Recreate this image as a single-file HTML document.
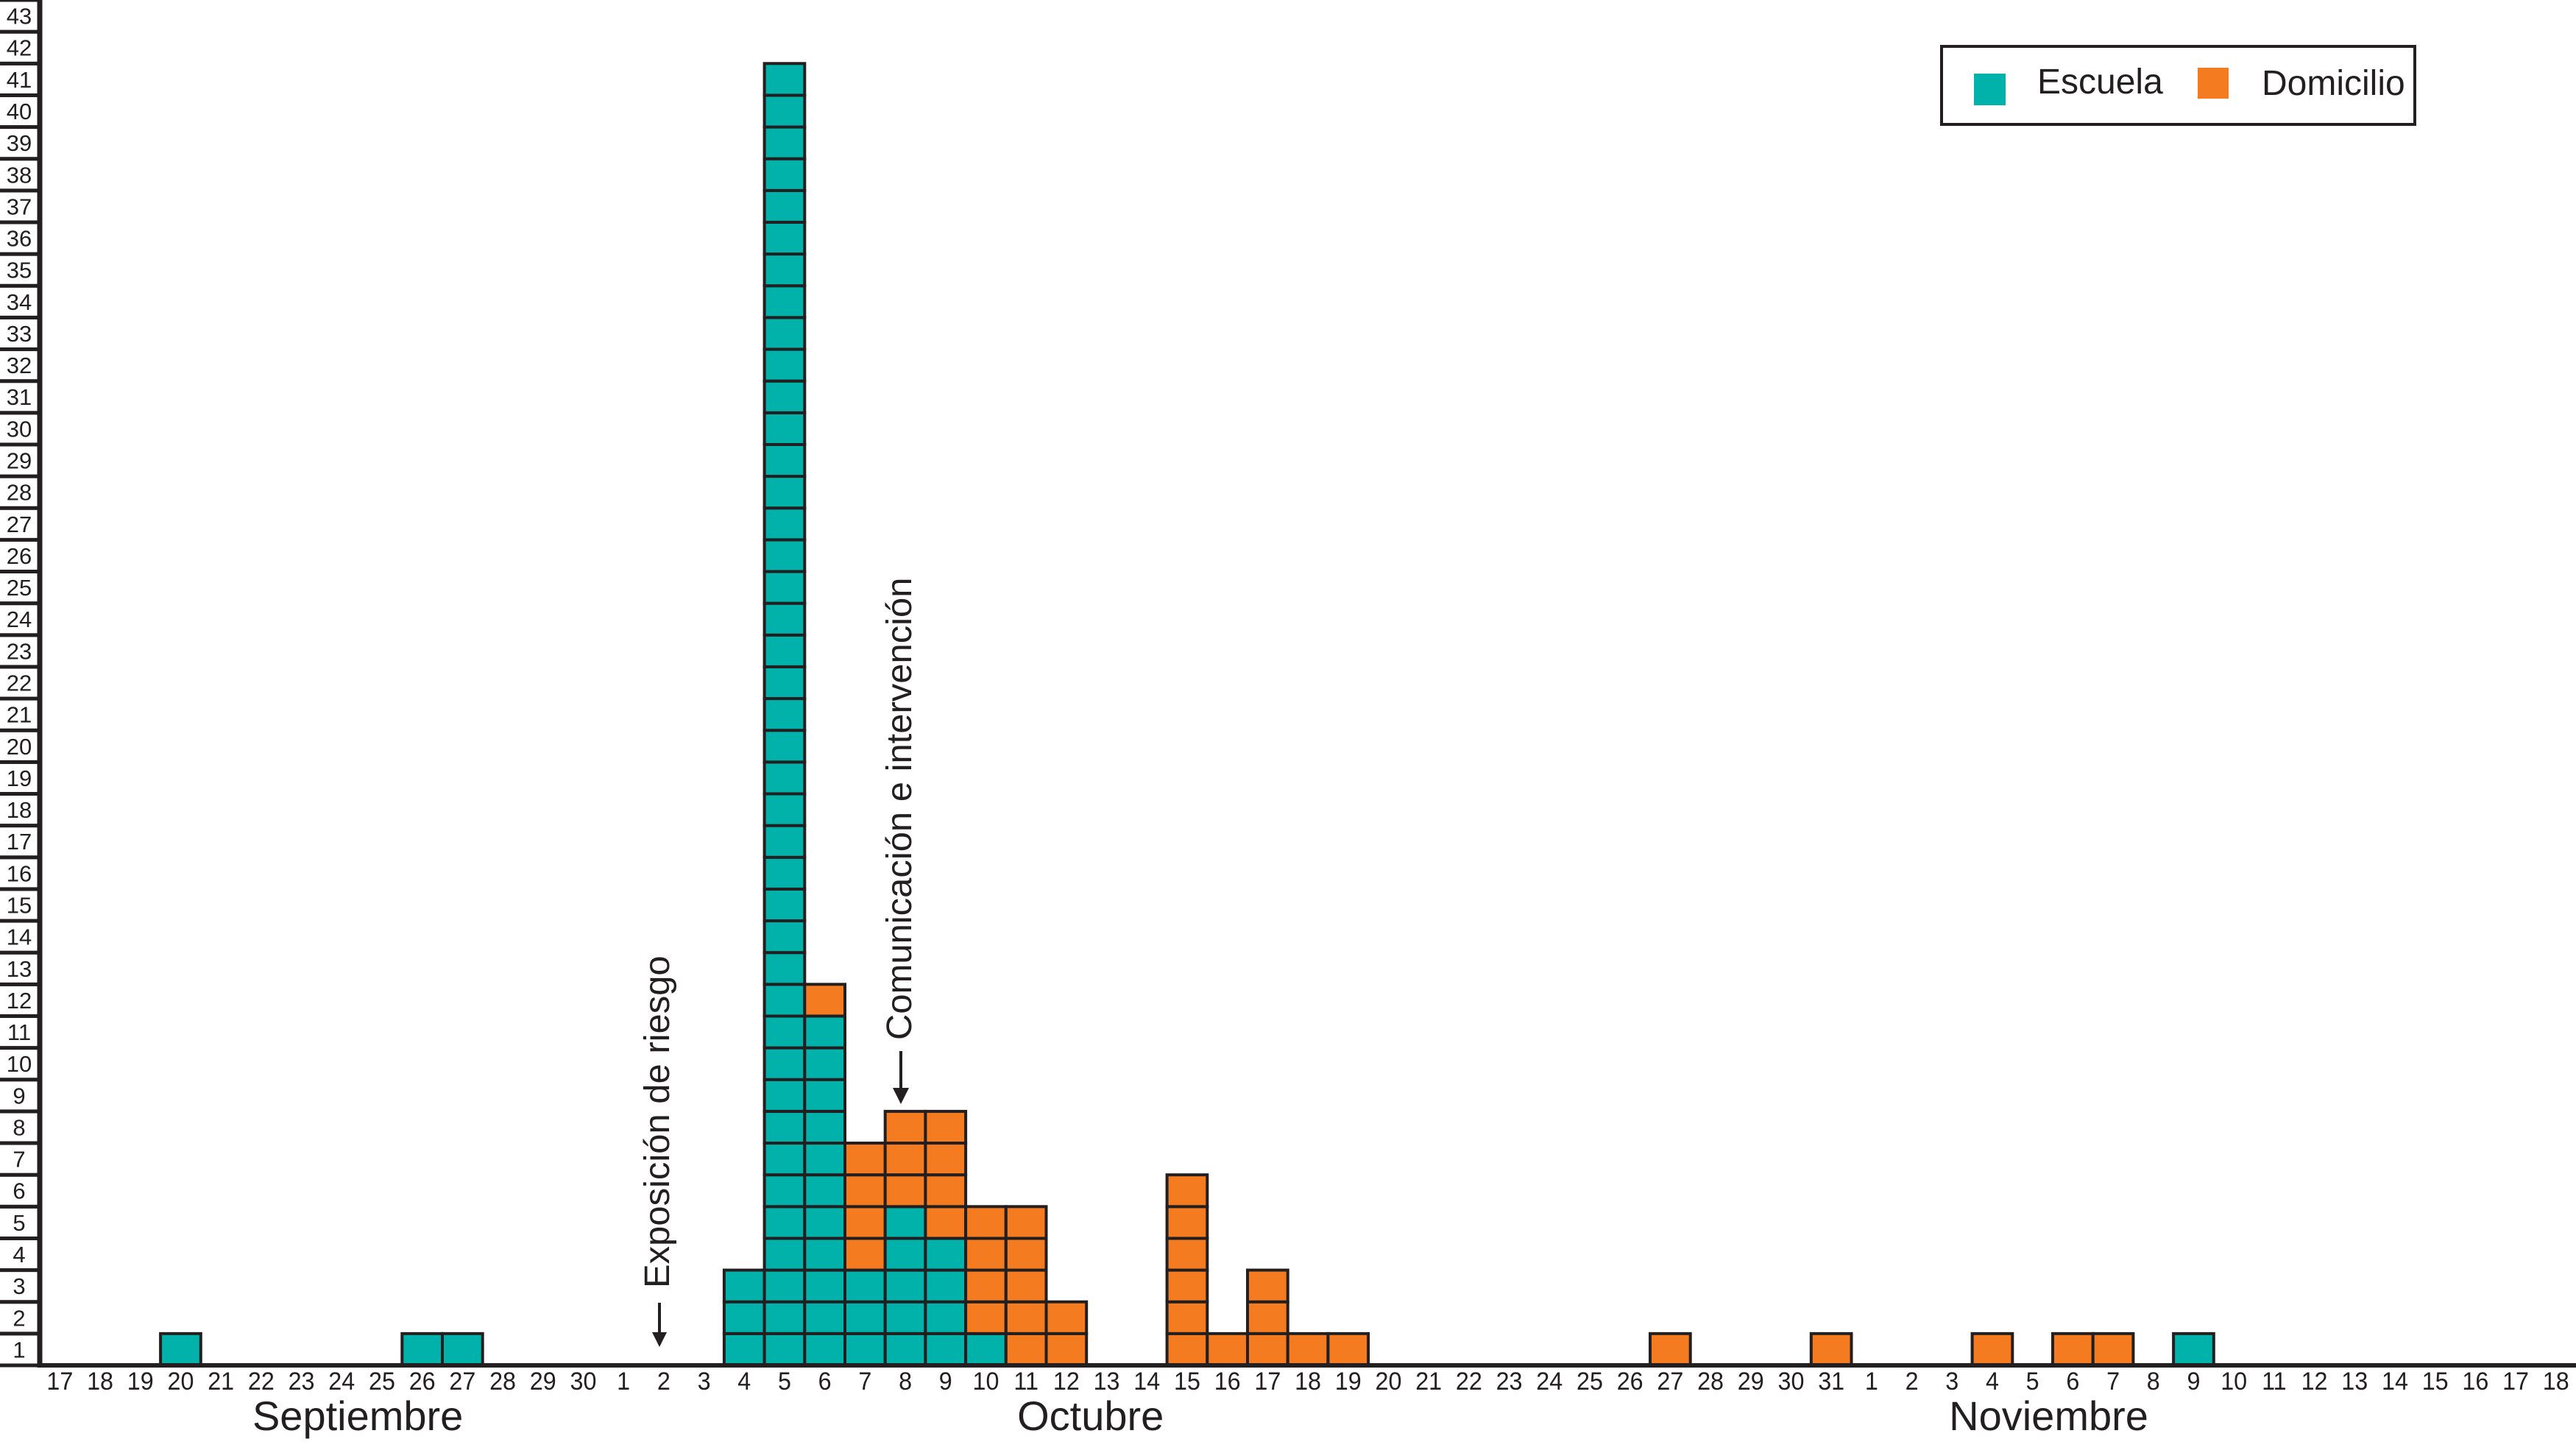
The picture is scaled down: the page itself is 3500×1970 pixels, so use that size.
<!DOCTYPE html>
<html><head><meta charset="utf-8">
<style>
html,body{margin:0;padding:0;background:#fff;}
svg{display:block;font-family:"Liberation Sans",Arial,sans-serif;}
</style></head>
<body>
<svg id="chart" width="3500" height="1970" viewBox="0 0 3500 1970" xmlns="http://www.w3.org/2000/svg">
<g id="cells"></g>
<g id="yax"></g>
<g id="xax"></g>
<g>
  <rect x="2638" y="63" width="643" height="106" fill="#fff" stroke="#231f20" stroke-width="4"/>
  <rect x="2682" y="100" width="43" height="43" fill="#00b2a9"/>
  <text x="2768" y="127" font-size="48" fill="#231f20" transform="translate(2768 0) scale(1.0 1) translate(-2768 0)">Escuela</text>
  <rect x="2986" y="92" width="42" height="42" fill="#f47b20"/>
  <text x="3073" y="129" font-size="48" fill="#231f20" transform="translate(3073 0) scale(1.0 1) translate(-3073 0)">Domicilio</text>
</g>
<g>
  <text x="0" y="0" font-size="48" fill="#231f20" transform="translate(909 1750) rotate(-90) scale(1.02 1)">Exposición de riesgo</text>
  <line x1="896" y1="1770" x2="896" y2="1815" stroke="#231f20" stroke-width="4"/>
  <polygon points="886,1810 906,1810 896,1830" fill="#231f20"/>
</g>
<g>
  <text x="0" y="0" font-size="48" fill="#231f20" transform="translate(1238 1413) rotate(-90) scale(1.02 1)">Comunicación  e intervención</text>
  <line x1="1224" y1="1428" x2="1224" y2="1485" stroke="#231f20" stroke-width="4"/>
  <polygon points="1213,1478 1235,1478 1224,1500" fill="#231f20"/>
</g>
</svg>
<script>
// days from Sep 17 to Nov 18
const dayLabels = ["17","18","19","20","21","22","23","24","25","26","27","28","29","30",
"1","2","3","4","5","6","7","8","9","10","11","12","13","14","15","16","17","18","19","20","21","22","23","24","25","26","27","28","29","30","31",
"1","2","3","4","5","6","7","8","9","10","11","12","13","14","15","16","17","18"];
const escuela = [0,0,0,1,0,0,0,0,0,1,1,0,0,0,
0,0,0,3,41,11,3,5,4,1,0,0,0,0,0,0,0,0,0,0,0,0,0,0,0,0,0,0,0,0,0,
0,0,0,0,0,0,0,0,1,0,0,0,0,0,0,0,0,0];
const domicilio = [0,0,0,0,0,0,0,0,0,0,0,0,0,0,
0,0,0,0,0,1,4,3,4,4,5,2,0,0,6,1,3,1,1,0,0,0,0,0,0,0,1,0,0,0,1,
0,0,0,1,0,1,1,0,0,0,0,0,0,0,0,0,0,0];
const yTicks = [];
for (let v = 1; v <= 43; v++) yTicks.push(v);
const months = ["Septiembre","Octubre","Noviembre"];
const monthCenterIdx = [7.4, 25.6, 49.4];

const NS = "http://www.w3.org/2000/svg";
const X0 = 54, COLW = 54.7, Y0 = 1855, ROWH = 1855/43;
function xPos(i){ return X0 + i*COLW; }
function yPos(v){ return Y0 - v*ROWH; }
function mk(tag, attrs, parent){
  const e = document.createElementNS(NS, tag);
  for (const k in attrs) e.setAttribute(k, attrs[k]);
  parent.appendChild(e); return e;
}
const cells = document.getElementById('cells');
for (let i = 0; i < dayLabels.length; i++) {
  let level = 0;
  for (let k = 0; k < escuela[i]; k++) {
    const r = mk('rect', {x:xPos(i), y:yPos(level+1), width:COLW, height:ROWH, fill:'#00b2a9', stroke:'#231f20', 'stroke-width':4}, cells);
    
    
    level++;
  }
  for (let k = 0; k < domicilio[i]; k++) {
    const r = mk('rect', {x:xPos(i), y:yPos(level+1), width:COLW, height:ROWH, fill:'#f47b20', stroke:'#231f20', 'stroke-width':4}, cells);
    
    
    level++;
  }
}
const yax = document.getElementById('yax');
yTicks.forEach(v => {
  const r = mk('rect', {x:-4, y:yPos(v), width:X0+4, height:ROWH, fill:'#fff', stroke:'#231f20', 'stroke-width':5}, yax);
  
  
  const t = mk('text', {x:26, y:yPos(v)+ROWH/2+11, 'font-size':31, 'text-anchor':'middle', fill:'#231f20'}, yax);
  
  
  t.textContent = v;
});
const yl = mk('line', {x1:X0, y1:0, x2:X0, y2:Y0+3, stroke:'#231f20', 'stroke-width':7}, yax);


const xax = document.getElementById('xax');
const xl = mk('line', {x1:X0-3, y1:Y0, x2:3500, y2:Y0, stroke:'#231f20', 'stroke-width':6}, xax);


dayLabels.forEach((d, i) => {
  const cx = xPos(i) + COLW/2;
  const t = mk('text', {x:0, y:0, 'font-size':34, 'text-anchor':'middle', fill:'#231f20', transform:'translate('+cx+' 1888) scale(0.95 1)'}, xax);
  
  
  t.textContent = d;
});
months.forEach((m, j) => {
  const cx = xPos(monthCenterIdx[j]) + COLW/2;
  const t = mk('text', {x:0, y:0, 'font-size':56, 'text-anchor':'middle', fill:'#231f20', transform:'translate('+cx+' 1943) scale(1.0 1)'}, xax);
  
  
  t.textContent = m;
});
</script>
</body></html>
